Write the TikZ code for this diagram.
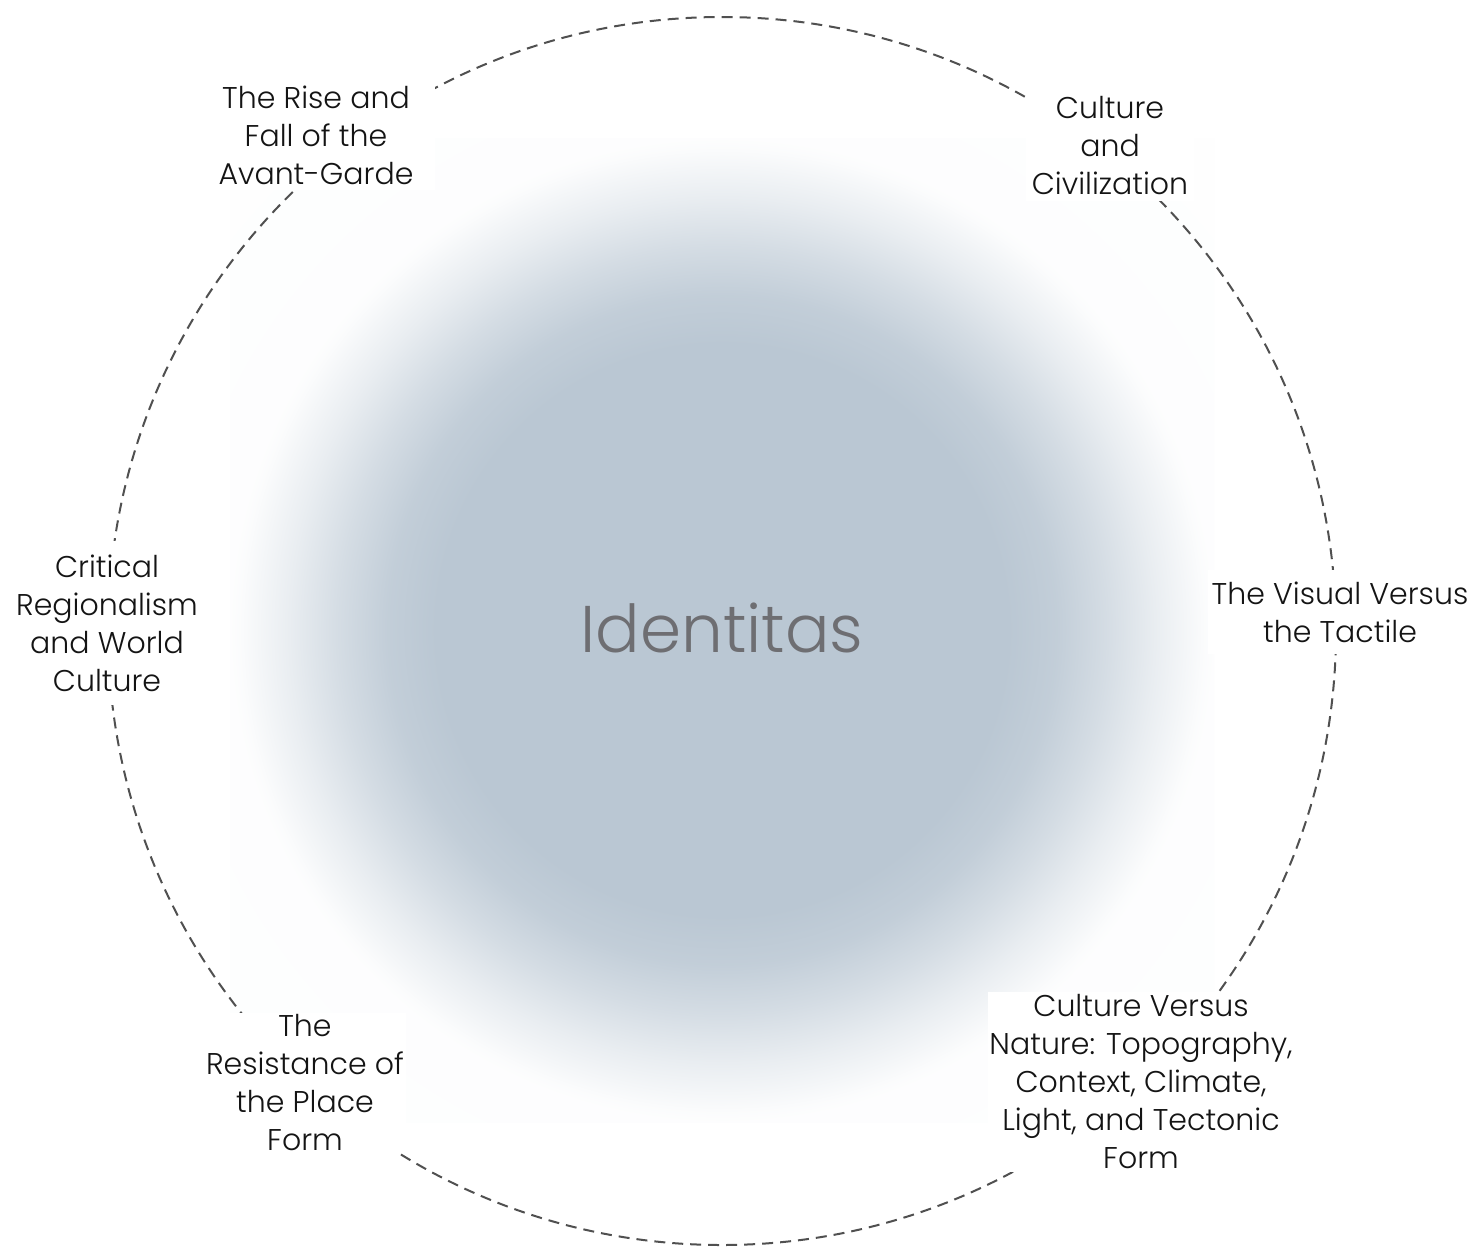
\documentclass[tikz,border=0pt]{standalone}
\usepackage{fontspec}
\setmainfont{Poppins}[UprightFont=* Light]
\definecolor{blobc}{RGB}{186,199,211}
\definecolor{ringc}{RGB}{80,80,80}
\definecolor{labc}{RGB}{20,20,20}
\definecolor{idc}{RGB}{110,110,114}
\pgfdeclareradialshading{blob}{\pgfpoint{0bp}{0bp}}{color(0bp)=(blobc); color(14.5bp)=(blobc); color(17bp)=(blobc!88!white); color(19.5bp)=(blobc!62!white); color(22bp)=(blobc!32!white); color(24.5bp)=(blobc!6!white); color(25bp)=(blobc!3!white); color(50bp)=(white)}
\begin{document}
\begin{tikzpicture}[x=1pt,y=1pt,
  lab/.style={align=center, fill=white, text=labc, font=\fontsize{30}{38}\selectfont, inner xsep=6pt, inner ysep=6pt},
  ring/.style={draw=ringc, line width=2pt, dash pattern=on 11pt off 7pt}]
\useasboundingbox[fill=white] (0,0) rectangle (1477,-1248);
\shade[shading=blob] (230,-138) rectangle (1214,-1122);
\node[text=idc, font=\fontsize{66}{70}\selectfont] (id) at (722,-628) {Identitas};
\draw[ring] (722,-631) circle (614);
\node[lab, inner xsep=22pt] (l1) at (316,-135) {The Rise and\\Fall of the\\Avant-Garde};
\node[lab] (l2) at (1110,-146) {Culture\\and\\Civilization};
\node[lab, inner xsep=4pt, inner ysep=12pt] (l3) at (1340,-612) {The Visual Versus\\the Tactile};
\node[lab, inner ysep=14pt] (l4) at (107,-623) {Critical\\Regionalism\\and World\\Culture};
\node[lab, inner xsep=2pt, inner ysep=2pt] (l5) at (305,-1083) {The\\Resistance of\\the Place\\Form};
\node[lab, inner xsep=1pt, inner ysep=3pt] (l6) at (1141,-1082) {Culture Versus\\Nature: Topography,\\Context, Climate,\\Light, and Tectonic\\Form};
\end{tikzpicture}
\end{document}
